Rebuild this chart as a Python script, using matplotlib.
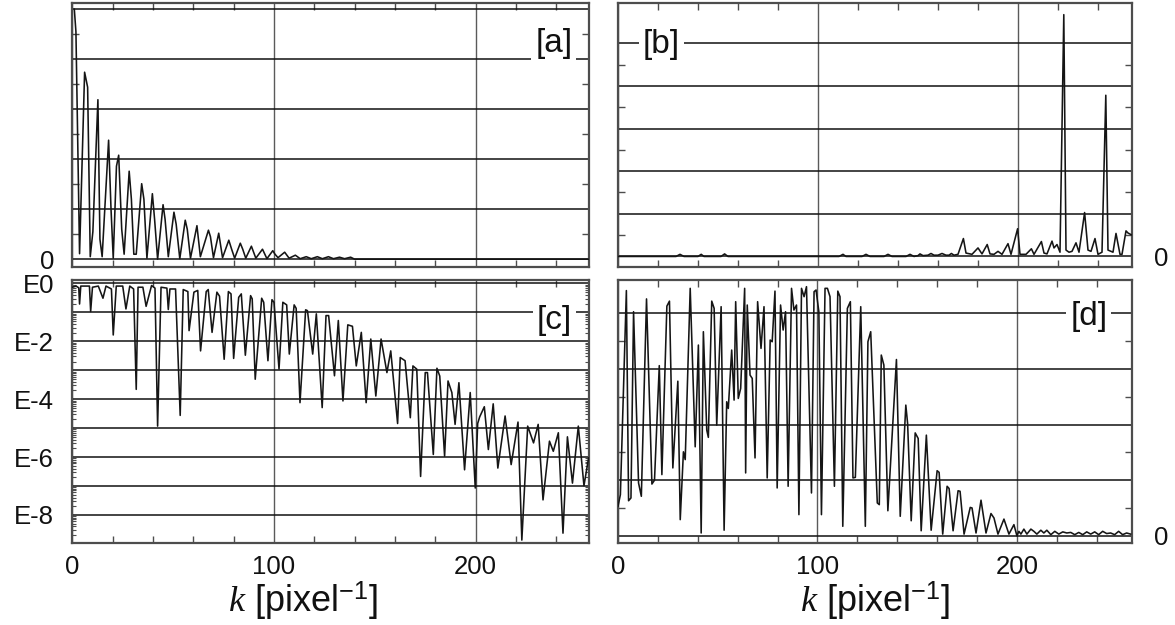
import matplotlib
matplotlib.use("Agg")
import matplotlib.pyplot as plt
from matplotlib.ticker import FixedLocator, LogLocator, NullFormatter

plt.rcParams['font.family'] = ['Liberation Sans', 'DejaVu Sans']
plt.rcParams['mathtext.fontset'] = 'custom'
plt.rcParams['mathtext.rm'] = 'Liberation Sans'
plt.rcParams['mathtext.it'] = 'Liberation Serif:italic'

# [a] amplitude spectrum, linear scale (vertices of the trace)
a_k = [1, 1.8, 3.6, 6.1, 7.6, 8.9, 10.2, 12.7, 13.7, 14.8, 18, 19.2, 20.3, 21.9, 23,
       24.5, 25.7, 28.2, 29.3, 30.5, 31.7, 34.4, 35.5, 37, 39.7, 40.8, 42.3, 45, 46,
       47.6, 50.4, 51.5, 53.3, 56, 57, 58.6, 61.8, 63.5, 67.5, 68.5, 70, 72.6, 74.5,
       77.6, 79, 80.5, 83.3, 84.5, 86, 88.8, 91, 94.3, 96.5, 99.4, 100.5, 102, 105.3,
       107.5, 110.6, 113, 116, 118.5, 121.5, 124, 127, 129.5, 132.5, 135, 138, 140, 256]
a_val = [5.0, 4.55, 0.11, 3.74, 3.44, 0.05, 0.55, 3.19, 0.4, 0.05, 2.38, 1.0, 0.02, 1.86, 2.08,
         0.6, 0.1, 1.76, 1.2, 0.1, 0.1, 1.51, 1.2, 0.02, 1.31, 0.8, 0.0, 1.09, 0.8,
         0.05, 0.94, 0.7, 0.01, 0.78, 0.6, 0.02, 0.67, 0.05, 0.58, 0.45, 0.03, 0.52, 0.03,
         0.38, 0.2, 0.02, 0.32, 0.2, 0.02, 0.26, 0.02, 0.2, 0.01, 0.17, 0.1, 0.03, 0.14,
         0.02, 0.08, 0.01, 0.05, 0.01, 0.05, 0.01, 0.05, 0.01, 0.04, 0.01, 0.04, 0.0, 0.0]

# [b] second spectrum, linear scale
b_k = [0, 29, 31, 33, 40, 41.6, 43, 51.5, 53.3, 55, 110.5, 112.5, 114, 122, 124, 126,
       133, 135, 137, 144, 146, 148, 150, 151, 152.5, 155, 156.5, 158, 160, 162, 164,
       165.5, 166.7, 168, 170, 172.7, 174, 177, 180, 182, 184.6, 186, 188, 190, 192, 195,
       196.5, 199.8, 201, 204, 206.7, 208, 211.7, 213, 214.5, 217, 218, 219.5, 221, 222.9,
       224, 225.5, 227, 229, 230.5, 233.3, 235, 236.5, 238.5, 240, 242, 243.9, 245, 246.5,
       247.5, 249, 251, 252, 254, 255, 257]
b_val = [0.0, 0.0, 0.05, 0.0, 0.0, 0.05, 0.0, 0.0, 0.06, 0.0, 0.0, 0.05, 0.0, 0.0, 0.05, 0.0,
         0.0, 0.05, 0.0, 0.0, 0.05, 0.0, 0.02, 0.06, 0.02, 0.03, 0.07, 0.03, 0.03, 0.07, 0.03,
         0.03, 0.07, 0.03, 0.05, 0.42, 0.08, 0.05, 0.2, 0.06, 0.28, 0.06, 0.05, 0.12, 0.05, 0.3,
         0.05, 0.65, 0.05, 0.05, 0.18, 0.05, 0.35, 0.08, 0.06, 0.36, 0.2, 0.28, 0.1, 5.67,
         0.15, 0.1, 0.12, 0.32, 0.1, 1.03, 0.15, 0.12, 0.42, 0.05, 0.1, 3.78, 0.15, 0.12,
         0.1, 0.54, 0.05, 0.05, 0.6, 0.55, 0.5]

# [c] log power spectrum, value in decades
c_k = [0, 1.9, 3.2, 3.6, 4.2, 8.5, 9.1, 10, 12.9, 15.2, 16.7, 19.4, 20.3, 21.8, 25, 26.6,
       28.5, 30.4, 31.7, 32.6, 35, 36.6, 39.3, 41, 42.3, 44, 46.9, 47.6, 48.4, 51.2, 53.5,
       55, 57.3, 57.9, 60.3, 62.2, 63.6, 66.4, 67.4, 69.3, 71.7, 73, 75.3, 77.4, 78.7, 80,
       82.5, 83.8, 85.8, 88.4, 89.2, 90.7, 93.9, 94.9, 97, 99, 100, 102.5, 104.4, 106.3,
       107.6, 110, 111, 112.9, 115.7, 116.6, 119.2, 121, 123.9, 125.8, 127.1, 130, 131.9,
       134.2, 136.6, 138.9, 140.8, 143.3, 145.7, 148, 150.5, 153.1, 156, 157.9, 161.3,
       162.6, 165, 167.6, 168.9, 170.8, 172.7, 175, 176.1, 179, 180.8, 182.2, 184.6, 186.3,
       188.2, 189.8, 191.7, 194.5, 197.3, 199.8, 201, 202, 204.3, 206.3, 208.7, 211, 214.6,
       217.6, 221, 222.9, 225.8, 228.7, 231, 233.4, 236.6, 238.5, 241, 243.3, 245.5, 248,
       250.9, 253.7, 256]
c_log = [-0.13, -0.09, -0.15, -0.71, -0.09, -0.09, -0.97, -0.13, -0.09, -0.51, -0.09, -0.19,
         -1.78, -0.09, -0.09, -0.88, -0.09, -0.19, -3.66, -0.13, -0.13, -0.79, -0.07, -0.16,
         -4.93, -0.13, -0.16, -0.9, -0.19, -0.19, -4.56, -0.21, -0.28, -1.63, -0.3, -0.24,
         -2.33, -0.28, -0.21, -1.69, -0.3, -0.44, -2.62, -0.28, -0.36, -2.59, -0.48, -0.36,
         -2.48, -0.42, -0.53, -3.31, -0.51, -0.65, -2.67, -0.56, -0.65, -2.96, -0.65, -0.74,
         -2.44, -0.74, -0.86, -4.12, -0.91, -0.94, -2.44, -1.05, -4.29, -1.11, -1.11, -3.19,
         -1.28, -4.06, -1.43, -1.48, -2.85, -1.69, -4.12, -1.92, -3.89, -1.92, -3.08, -2.33,
         -4.84, -2.56, -2.67, -4.64, -2.85, -2.96, -6.67, -3.08, -3.08, -5.91, -2.93, -3.2,
         -5.97, -3.37, -3.77, -4.87, -3.43, -6.44, -3.77, -7.07, -4.84, -4.61, -4.26, -5.74,
         -4.16, -6.38, -4.58, -6.26, -4.79, -8.87, -4.93, -5.51, -4.87, -7.48, -5.45, -5.8,
         -5.16, -8.63, -5.3, -6.9, -4.93, -6.99, -6.03]

# [d] second spectrum, linear scale
d_k = [0, 1.2, 4.2, 5.3, 6.5, 7.8, 10.3, 11.7, 14.3, 17, 18.3, 20.7, 22, 24.5, 25.8, 27.5,
       30, 31.2, 32.8, 33.7, 36.2, 38.7, 40.3, 41.7, 42.8, 44.5, 45.3, 47, 48.2, 49.5, 51.7,
       53.2, 54.5, 55.3, 57, 58.2, 59, 60.3, 61.5, 63.5, 64, 64.8, 66.2, 67.3, 68.7, 70,
       71.7, 73.2, 74.8, 76.3, 77.3, 78.7, 79.8, 81.5, 82.8, 84, 85.3, 87, 88.2, 89.5, 90.7,
       92, 93.3, 94.5, 97, 98.3, 99.3, 100.7, 102, 103.8, 105, 106.3, 108.5, 110.2, 111.3,
       112.7, 115, 116.5, 117.8, 119, 121.7, 124, 125.3, 126.7, 130, 131, 132, 133.3, 135.3,
       139.6, 141.5, 144.3, 145.2, 147, 149, 150.5, 152, 154.6, 157, 160, 161, 162.8, 165,
       166, 168, 170.5, 171.5, 173.5, 176.6, 177.5, 179.5, 182, 184.5, 187, 188.5, 190.5,
       193.5, 196, 198.5, 200, 201, 202, 203.5, 205, 207, 208.5, 210, 212, 213.5, 215, 217,
       219, 221, 223, 225, 227, 229, 231, 233, 235, 237, 239, 241, 243, 245, 247, 249, 251,
       253, 255, 257]
d_val = [0.53, 0.74, 4.41, 0.63, 0.68, 4.03, 0.95, 0.71, 4.26, 0.93, 1.0, 3.06, 1.1, 4.13,
         4.22, 1.22, 2.78, 0.29, 1.51, 1.37, 4.45, 1.6, 3.43, 0.05, 3.67, 1.9, 1.77, 4.22,
         4.09, 1.99, 4.12, 0.1, 2.41, 2.29, 3.34, 2.44, 4.21, 2.47, 2.65, 4.45, 1.13, 4.15,
         2.89, 2.83, 1.4, 4.21, 3.37, 4.12, 1.04, 3.52, 3.49, 4.4, 0.86, 4.15, 3.7, 4.03,
         0.89, 4.45, 4.06, 4.15, 0.38, 4.45, 4.3, 4.48, 0.77, 4.39, 4.42, 4.03, 0.38, 4.45,
         4.45, 4.3, 0.89, 4.4, 4.3, 0.17, 4.09, 4.21, 1.04, 1.05, 4.12, 0.17, 3.49, 3.67,
         0.59, 0.56, 3.25, 3.07, 0.45, 3.17, 0.35, 2.35, 2.02, 0.27, 1.85, 1.75, 0.09, 1.81,
         0.1, 1.17, 1.14, 0.03, 0.89, 0.85, 0.09, 0.81, 0.8, 0.03, 0.51, 0.5, 0.05, 0.64,
         0.05, 0.4, 0.32, 0.03, 0.3, 0.03, 0.2, 0.0, 0.08, 0.03, 0.12, 0.03, 0.12, 0.08, 0.03,
         0.1, 0.05, 0.1, 0.02, 0.08, 0.03, 0.07, 0.05, 0.06, 0.02, 0.06, 0.02, 0.07, 0.03,
         0.07, 0.02, 0.08, 0.04, 0.05, 0.02, 0.08, 0.02, 0.05, 0.03]

x_major = [0, 100, 200]
x_minor = [20, 40, 60, 80, 120, 140, 160, 180, 220, 240]
panel_tags = ['[a]', '[b]', '[c]', '[d]']
log_labels = ['E0', '', 'E-2', '', 'E-4', '', 'E-6', '', 'E-8']

LINE = '#151515'
FRAME = '#4d4d4d'
FS_TICK = 18.5
FS_TAG = 24

fig = plt.figure(figsize=(11.75, 6.25), dpi=100)
W, H = 1175, 625


def add_box(x0, y0, x1, y1):
    return fig.add_axes([x0 / W, 1 - y1 / H, (x1 - x0) / W, (y1 - y0) / H])


ax_a = add_box(72.3, 2.7, 589, 266.7)
ax_b = add_box(618, 2.7, 1132, 266.7)
ax_c = add_box(72.3, 280, 589, 543)
ax_d = add_box(618, 280, 1132, 543)


def style(ax, xmax, show_xlabels):
    ax.set_xlim(0, xmax)
    ax.xaxis.set_major_locator(FixedLocator(x_major))
    ax.xaxis.set_minor_locator(FixedLocator(x_minor))
    ax.tick_params(axis='both', which='both', direction='in', top=True, right=True,
                   colors=FRAME, labelcolor='#111111', labelsize=FS_TICK)
    ax.tick_params(axis='x', which='major', length=0, pad=9)
    ax.tick_params(axis='x', which='minor', length=5, width=1.0)
    ax.tick_params(axis='y', which='major', length=0)
    ax.tick_params(labelbottom=show_xlabels)
    if show_xlabels:
        ax.set_xticklabels([str(v) for v in x_major])
    ax.xaxis.grid(True, which='major', color='#5a5a5a', lw=1.0)
    ax.yaxis.grid(True, which='major', color='#111111', lw=1.1)
    ax.set_axisbelow(True)
    for sp in ax.spines.values():
        sp.set_color(FRAME)
        sp.set_linewidth(1.6)


def linear_y(ax, top, bottom, ngrid, label_side):
    ax.set_ylim(bottom, top)
    ax.yaxis.set_major_locator(FixedLocator(range(ngrid + 1)))
    ax.yaxis.set_minor_locator(FixedLocator([i + 0.5 for i in range(ngrid)]))
    ax.tick_params(axis='y', which='minor', length=5, width=1.0)
    ax.set_yticklabels(['0'] + [''] * ngrid)
    if label_side == 'right':
        ax.tick_params(axis='y', labelleft=False, labelright=True, pad=16)
    else:
        ax.tick_params(axis='y', pad=13)


def tag(ax, text, x, y):
    ax.text(x, y, text, transform=ax.transAxes, fontsize=FS_TAG, ha='center', va='center',
            color='#111111', zorder=5,
            bbox=dict(boxstyle='square,pad=0.12', fc='white', ec='none'))


# [a]
ax_a.plot(a_k, a_val, color=LINE, lw=1.15, zorder=3)
style(ax_a, 256.2, False)
linear_y(ax_a, 5.13, -0.15, 5, 'left')
tag(ax_a, panel_tags[0], 0.932, 0.845)

# [b]
ax_b.plot(b_k, b_val, color=LINE, lw=1.15, zorder=3)
style(ax_b, 257, False)
linear_y(ax_b, 5.95, -0.24, 5, 'right')
tag(ax_b, panel_tags[1], 0.084, 0.843)

# [c]
ax_c.plot(c_k, [10 ** v for v in c_log], color=LINE, lw=1.15, zorder=3)
style(ax_c, 256.2, True)
ax_c.set_yscale('log')
ax_c.set_ylim(10 ** -8.97, 10 ** 0.12)
ax_c.yaxis.set_major_locator(FixedLocator([10.0 ** -i for i in range(9)]))
ax_c.set_yticklabels(log_labels)
ax_c.yaxis.set_minor_locator(LogLocator(base=10, subs=range(2, 10), numticks=20))
ax_c.yaxis.set_minor_formatter(NullFormatter())
ax_c.tick_params(axis='y', which='minor', length=3, width=0.8)
ax_c.tick_params(axis='y', which='major', pad=13)
tag(ax_c, panel_tags[2], 0.933, 0.845)

# [d]
ax_d.plot(d_k, d_val, color=LINE, lw=1.15, zorder=3)
style(ax_d, 257.7, True)
linear_y(ax_d, 4.6, -0.13, 4, 'right')
tag(ax_d, panel_tags[3], 0.916, 0.86)

# axis titles below the bottom row
xlabel = r'$\mathit{k}$ [pixel$^{-1}$]'
fig.text(303 / W, 1 - 601 / H, xlabel, fontsize=26, ha='center', va='center', color='#111111')
fig.text(875 / W, 1 - 601 / H, xlabel, fontsize=26, ha='center', va='center', color='#111111')

fig.savefig('out.png', dpi=100, facecolor='white')
